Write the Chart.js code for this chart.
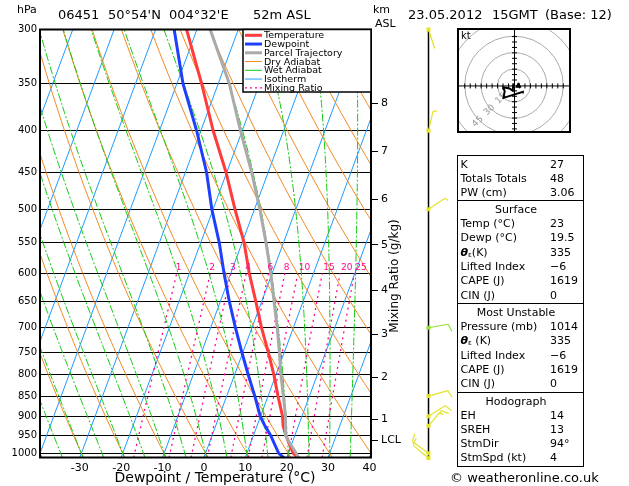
<!DOCTYPE html>
<html>
<head>
<meta charset="utf-8">
<script src="https://cdn.jsdelivr.net/npm/chart.js@4.4.1/dist/chart.umd.min.js"></script>
<style>
html, body { margin: 0; padding: 0; background: #fff; }
#wrap { position: relative; width: 629px; height: 486px; overflow: hidden; font-family: "DejaVu Sans", sans-serif; color: #000; }
#main { position: absolute; left: 0; top: 0; }
#hodo { position: absolute; left: 457px; top: 28px; }
.txt { position: absolute; white-space: pre; line-height: 14px; }
.box { position: absolute; border: 1px solid #000; box-sizing: border-box; }
.sep { position: absolute; height: 1px; background: #000; }
sub { font-size: 7px; vertical-align: -1px; }
</style>
</head>
<body>
<div id="wrap">
  <canvas id="main" width="629" height="486"></canvas>
  <canvas id="hodo" width="114" height="105"></canvas>
</div>
<script>
// sounding profile, pressures in hPa, temps in degC
var levels      = [1014, 1000, 950, 925, 900, 850, 800, 750, 700, 650, 600, 550, 500, 450, 400, 350, 300];
var temperature = [23.0, 21.2, 17.8, 16.3, 15.3, 12.4, 9.5, 6.1, 2.3, -1.4, -5.5, -9.5, -14.7, -20.2, -27.0, -34.0, -42.5];
var dewpoint    = [19.5, 17.7, 14.1, 11.9, 9.9, 6.8, 3.3, -0.3, -4.0, -7.8, -11.6, -15.5, -20.3, -24.9, -31.0, -38.5, -45.5];
var parcelLevels = [1014, 1000, 964, 950, 925, 900, 850, 800, 750, 700, 650, 600, 550, 500, 450, 400, 350, 300];
var parcelTemp   = [23.0, 21.9, 18.8, 17.8, 17.0, 15.9, 13.7, 11.2, 8.8, 6.1, 3.0, -0.3, -4.2, -8.7, -14.0, -20.4, -27.3, -36.8];

// axes
var tempTicks = [-30, -20, -10, 0, 10, 20, 30, 40];
var pressureTicks = [300, 350, 400, 450, 500, 550, 600, 650, 700, 750, 800, 850, 900, 950, 1000];
var heightPressure = [908, 806, 713, 629, 553, 486, 424, 370];
var heightLabels = ['1', '2', '3', '4', '5', '6', '7', '8'];
var lclPressure = 964;

// background lines of the diagram
var isotherms = [-80, -70, -60, -50, -40, -30, -20, -10, 0, 10, 20, 30, 40];
var dryAdiabats = [-40, -30, -20, -10, 0, 10, 20, 30, 40, 50, 60, 70, 80, 90, 100, 110, 120];
var wetAdiabats = [-40, -35, -30, -25, -20, -15, -10, -5, 0, 5, 10, 15, 20, 25, 30, 35, 40];
var mixingRatios = [1, 2, 3, 4, 6, 8, 10, 15, 20, 25];

// winds
var windLevels = [300, 400, 500, 700, 850, 900, 925, 1000, 1014];
var windDir    = [162, 13, 56, 80, 74, 58, 40, 306, 310];
var windSpeed  = [2, 5, 5, 10, 10, 10, 15, 10, 10];
var stormDir = 94, stormSpd = 4;
var hodoRings = [15, 30, 45, 60];

// indices table
var indexLabels = ['K', 'Totals Totals', 'PW (cm)'];
var indexValues = ['27', '48', '3.06'];
var surfaceLabels = ['Temp (°C)', 'Dewp (°C)', 'θε(K)', 'Lifted Index', 'CAPE (J)', 'CIN (J)'];
var surfaceValues = ['23', '19.5', '335', '−6', '1619', '0'];
var unstableLabels = ['Pressure (mb)', 'θε (K)', 'Lifted Index', 'CAPE (J)', 'CIN (J)'];
var unstableValues = ['1014', '335', '−6', '1619', '0'];
var hodoLabels = ['EH', 'SREH', 'StmDir', 'StmSpd (kt)'];
var hodoValues = ['14', '13', '94°', '4'];

var FONT = '"DejaVu Sans", sans-serif';
var K = 31.5;          // skew, degC per ln(p)
var pBottom = 1012, pTop = 300;
var xMin = -40 + K * Math.log(pBottom / 1000), xMax = xMin + 80;

function skewX(tC, p) { return tC + K * Math.log(pBottom / p); }

var samplePs = [pBottom];
for (var sp = 1000; sp >= pTop; sp -= 10) samplePs.push(sp);

function satVap(tC) { return 6.112 * Math.exp(17.67 * tC / (tC + 243.5)); }

function dTdp(p, T) {
    var es = satVap(T - 273.15);
    var rs = 0.622 * es / (p - es);
    var num = 287.04 * T + 2.501e6 * rs;
    var den = 1005.7 + (2.501e6 * 2.501e6 * rs * 0.622) / (287.04 * T * T);
    return num / (den * p);
}

function moistLine(twC) {
    var pts = [];
    var T = twC + 273.15, p = 1000, dp = 2;
    // below 1000 hPa
    var k1 = dTdp(p, T), k2 = dTdp(p + 12, T + k1 * 12);
    pts.push({x: skewX(T + 0.5 * (k1 + k2) * 12 - 273.15, pBottom), y: pBottom});
    pts.push({x: skewX(twC, 1000), y: 1000});
    while (p > pTop) {
        k1 = dTdp(p, T);
        k2 = dTdp(p - dp, T - k1 * dp);
        T -= 0.5 * (k1 + k2) * dp;
        p -= dp;
        if (p % 10 === 0) pts.push({x: skewX(T - 273.15, p), y: p});
    }
    return pts;
}

function mixingTd(w, p) {
    var e = w * p / (622 + w);
    var l = Math.log(e / 6.112);
    return 243.5 * l / (17.67 - l);
}

function profile(ps, ts) {
    return ps.map(function(p, i) { return {x: skewX(ts[i], p), y: p}; });
}

var datasets = [];
function addLine(data, color, width, dash) {
    datasets.push({
        data: data, showLine: true, borderColor: color, borderWidth: width,
        borderDash: dash || [], pointRadius: 0, fill: false, tension: 0
    });
}

// top-most first
addLine(profile(parcelLevels, parcelTemp), '#aaaaaa', 3);
addLine(profile(levels, temperature), '#ff3b3b', 3);
addLine(profile(levels, dewpoint), '#1f3fff', 3);
mixingRatios.forEach(function(w) {
    var pts = [];
    samplePs.forEach(function(p) { if (p >= 600) pts.push({x: skewX(mixingTd(w, p), p), y: p}); });
    addLine(pts, '#ff0a8c', 1.3, [2, 4]);
});
wetAdiabats.forEach(function(tw) { addLine(moistLine(tw), '#12cc12', 1, [8, 2, 2, 2]); });
dryAdiabats.forEach(function(th) {
    addLine(samplePs.map(function(p) {
        var T = (th + 273.15) * Math.pow(p / 1000, 0.2857) - 273.15;
        return {x: skewX(T, p), y: p};
    }), '#f08a24', 1);
});
isotherms.forEach(function(t) {
    addLine([{x: skewX(t, pBottom), y: pBottom}, {x: skewX(t, pTop), y: pTop}], '#1e9bff', 1);
});

function drawBarb(ctx, cx, cy, dir, spd, color) {
    var a = dir * Math.PI / 180;
    var ux = Math.sin(a), uy = -Math.cos(a);
    var px = -uy, py = ux;
    var bx = 0.3 * ux + 0.95 * px, by = 0.3 * uy + 0.95 * py;
    var L = 20, pos = L;
    ctx.strokeStyle = color;
    ctx.fillStyle = color;
    ctx.lineWidth = 1.2;
    ctx.beginPath();
    ctx.moveTo(cx, cy);
    ctx.lineTo(cx + ux * L, cy + uy * L);
    var rem = Math.round(spd / 5) * 5;
    while (rem >= 10) {
        ctx.moveTo(cx + ux * pos, cy + uy * pos);
        ctx.lineTo(cx + ux * pos + bx * 8, cy + uy * pos + by * 8);
        pos -= 3;
        rem -= 10;
    }
    if (rem >= 5) {
        ctx.moveTo(cx + ux * pos, cy + uy * pos);
        ctx.lineTo(cx + ux * pos + bx * 4, cy + uy * pos + by * 4);
    }
    ctx.stroke();
    ctx.fillRect(cx - 2, cy - 2, 4, 4);
}

var legendItems = [
    ['Temperature', '#ff3b3b', 3, []],
    ['Dewpoint', '#1f3fff', 3, []],
    ['Parcel Trajectory', '#aaaaaa', 3, []],
    ['Dry Adiabat', '#f08a24', 1, []],
    ['Wet Adiabat', '#12cc12', 1, []],
    ['Isotherm', '#1e9bff', 1, []],
    ['Mixing Ratio', '#ff0a8c', 1.3, [2, 3]]
];

var decorPlugin = {
    id: 'skewDecor',
    afterDraw: function(chart) {
        var ctx = chart.ctx, a = chart.chartArea;
        var xs = chart.scales.x, ys = chart.scales.y;
        ctx.save();

        // mixing ratio labels at 600 hPa
        ctx.fillStyle = '#ff0a8c';
        ctx.font = '9px ' + FONT;
        ctx.textAlign = 'left';
        ctx.textBaseline = 'middle';
        mixingRatios.forEach(function(w) {
            var xp = xs.getPixelForValue(skewX(mixingTd(w, 600), 600));
            ctx.fillText(String(w), xp + (w >= 10 ? 1 : -1), ys.getPixelForValue(600) - 6);
        });

        // plot frame
        ctx.strokeStyle = '#000';
        ctx.lineWidth = 2;
        ctx.strokeRect(a.left, a.top, a.right - a.left, a.bottom - a.top);

        // legend
        var lx = 243, ly = a.top;
        ctx.fillStyle = '#fff';
        ctx.fillRect(lx, ly, a.right - lx, 62.5);
        ctx.lineWidth = 1.5;
        ctx.strokeRect(lx, ly, a.right - lx, 62.5);
        ctx.font = '9.5px ' + FONT;
        ctx.textAlign = 'left';
        legendItems.forEach(function(it, i) {
            var yy = ly + 5.8 + i * 8.75;
            ctx.strokeStyle = it[1];
            ctx.lineWidth = it[2];
            ctx.setLineDash(it[3]);
            ctx.beginPath();
            ctx.moveTo(245, yy);
            ctx.lineTo(262, yy);
            ctx.stroke();
            ctx.setLineDash([]);
            ctx.fillStyle = '#000';
            ctx.fillText(it[0], 264, yy + 0.5);
        });

        // axis titles
        ctx.fillStyle = '#000';
        ctx.font = '14px ' + FONT;
        ctx.textAlign = 'center';
        ctx.fillText('Dewpoint / Temperature (°C)', 215, 478);
        ctx.save();
        ctx.translate(395, 276);
        ctx.rotate(-Math.PI / 2);
        ctx.font = '12px ' + FONT;
        ctx.fillText('Mixing Ratio (g/kg)', 0, 0);
        ctx.restore();

        // wind barbs column
        var bxp = 428.5;
        ctx.strokeStyle = '#000';
        ctx.lineWidth = 1.5;
        ctx.beginPath();
        ctx.moveTo(bxp, ys.getPixelForValue(300) - 1);
        ctx.lineTo(bxp, ys.getPixelForValue(1014) + 1);
        ctx.stroke();
        windLevels.forEach(function(p, i) {
            var col = p === 700 ? '#99dd33' : '#e3e32a';
            drawBarb(ctx, bxp, ys.getPixelForValue(p), windDir[i], windSpeed[i], col);
        });
        ctx.restore();
    }
};

new Chart(document.getElementById('main'), {
    type: 'scatter',
    data: {datasets: datasets},
    options: {
        responsive: false,
        animation: false,
        devicePixelRatio: 1,
        layout: {padding: {top: 29.5, right: 223, bottom: 0, left: 0}},
        plugins: {legend: {display: false}, tooltip: {enabled: false}},
        scales: {
            x: {
                type: 'linear', position: 'bottom', min: xMin, max: xMax,
                grid: {display: false, drawTicks: false},
                border: {display: false},
                ticks: {color: '#000', font: {family: FONT, size: 11}, padding: 4, maxRotation: 0, autoSkip: false,
                        callback: function(v) { return String(v); }},
                afterBuildTicks: function(s) { s.ticks = tempTicks.map(function(v) { return {value: v}; }); },
                afterFit: function(s) { s.height = 28.5; }
            },
            y: {
                type: 'logarithmic', position: 'left', reverse: true, min: pTop, max: pBottom,
                grid: {color: '#000', lineWidth: 1, drawTicks: false},
                border: {display: false},
                ticks: {color: '#000', font: {family: FONT, size: 10}, padding: 3, autoSkip: false,
                        callback: function(v) { return String(v); }},
                afterBuildTicks: function(s) {
                    s.ticks = pressureTicks.map(function(v) { return {value: v}; });
                    s.min = pTop; s.max = pBottom;
                },
                afterFit: function(s) { s.width = 40; }
            },
            y2: {
                type: 'logarithmic', position: 'right', reverse: true, min: pTop, max: pBottom,
                grid: {drawOnChartArea: false, drawTicks: true, tickLength: 7, color: '#000', lineWidth: 1},
                border: {display: false},
                ticks: {color: '#000', font: {family: FONT, size: 11}, padding: 3, autoSkip: false,
                        callback: function(v, i) { return heightLabels.concat(['LCL'])[i]; }},
                afterBuildTicks: function(s) {
                    s.ticks = heightPressure.concat([lclPressure]).map(function(v) { return {value: v}; });
                    s.min = pTop; s.max = pBottom;
                },
                afterFit: function(s) { s.width = 35; }
            }
        }
    },
    plugins: [decorPlugin]
});

// hodograph
var hodoPoints = windLevels.slice().reverse().map(function(p, i) {
    var j = windLevels.length - 1 - i;
    var a = windDir[j] * Math.PI / 180;
    return {x: -windSpeed[j] * Math.sin(a), y: -windSpeed[j] * Math.cos(a)};
});
var stormPoint = {x: stormSpd * Math.sin(stormDir * Math.PI / 180), y: stormSpd * Math.cos(stormDir * Math.PI / 180)};

var hodoPlugin = {
    id: 'hodoDecor',
    beforeDatasetsDraw: function(chart) {
        var ctx = chart.ctx, xs = chart.scales.x, ys = chart.scales.y;
        var cx = xs.getPixelForValue(0), cy = ys.getPixelForValue(0);
        var ppk = xs.getPixelForValue(1) - cx;
        ctx.save();
        ctx.strokeStyle = '#aaaaaa';
        ctx.lineWidth = 1;
        hodoRings.forEach(function(r) {
            ctx.beginPath();
            ctx.arc(cx, cy, r * ppk, 0, Math.PI * 2);
            ctx.stroke();
        });
        ctx.fillStyle = '#999';
        ctx.font = '9px ' + FONT;
        ctx.textAlign = 'center';
        ctx.textBaseline = 'middle';
        hodoRings.slice(0, 3).forEach(function(r) {
            var d = (r * ppk + 2) / Math.SQRT2;
            ctx.save();
            ctx.translate(cx - d, cy + d);
            ctx.rotate(-Math.PI / 4);
            ctx.fillText(String(r), 0, 0);
            ctx.restore();
        });
        ctx.strokeStyle = '#000';
        ctx.beginPath();
        ctx.moveTo(0, cy + 0.5); ctx.lineTo(chart.width, cy + 0.5);
        ctx.moveTo(cx + 0.5, 0); ctx.lineTo(cx + 0.5, chart.height);
        for (var k = -45; k <= 45; k += 5) {
            if (k === 0) continue;
            var xp = xs.getPixelForValue(k), yp = ys.getPixelForValue(k);
            ctx.moveTo(xp, cy - 2); ctx.lineTo(xp, cy + 3);
            ctx.moveTo(cx - 2, yp); ctx.lineTo(cx + 3, yp);
        }
        ctx.stroke();
        ctx.fillStyle = '#000';
        ctx.font = '10px ' + FONT;
        ctx.textAlign = 'left';
        ctx.fillText('kt', 4, 8);
        ctx.restore();
    },
    afterDraw: function(chart) {
        var ctx = chart.ctx;
        ctx.save();
        ctx.strokeStyle = '#000';
        ctx.lineWidth = 2;
        ctx.strokeRect(1, 1, chart.width - 2, chart.height - 2);
        ctx.restore();
    }
};

new Chart(document.getElementById('hodo'), {
    type: 'scatter',
    data: {datasets: [
        {data: [stormPoint], pointStyle: 'triangle', pointRadius: 3, backgroundColor: '#000', borderColor: '#000'},
        {data: hodoPoints, showLine: true, borderColor: '#000', borderWidth: 2, pointRadius: 0}
    ]},
    options: {
        responsive: false,
        animation: false,
        devicePixelRatio: 1,
        layout: {padding: 0},
        plugins: {legend: {display: false}, tooltip: {enabled: false}},
        scales: {
            x: {display: false, min: -47.5, max: 47.5},
            y: {display: false, min: -39.2, max: 48.3}
        }
    },
    plugins: [hodoPlugin]
});

// page texts
var wrap = document.getElementById('wrap');
function addText(html, left, cy, size, center) {
    var d = document.createElement('div');
    d.className = 'txt';
    d.innerHTML = html;
    d.style.left = left + 'px';
    d.style.top = (cy - 7) + 'px';
    d.style.fontSize = size + 'px';
    if (center) d.style.transform = 'translateX(-50%)';
    wrap.appendChild(d);
}
function thetaE(s) {
    return s.replace('θε', '<b><i>θ</i></b><sub>ε</sub>');
}

addText('hPa', 17, 10, 11);
addText('km', 373, 10, 11);
addText('ASL', 375, 24, 11);
addText('06451', 58, 15, 13);
addText('50°54\'N', 108, 15, 13);
addText('004°32\'E', 169, 15, 13);
addText('52m ASL', 253, 15, 13);
addText('23.05.2012', 408, 15, 13);
addText('15GMT', 492, 15, 13);
addText('(Base: 12)', 545, 15, 13);
addText('© weatheronline.co.uk', 450, 478, 13);

var box = document.createElement('div');
box.className = 'box';
box.style.left = '457px'; box.style.top = '155px';
box.style.width = '127px'; box.style.height = '312px';
wrap.appendChild(box);

var sections = [
    {top: 155, title: null, labels: indexLabels, values: indexValues},
    {top: 200, title: 'Surface', labels: surfaceLabels, values: surfaceValues},
    {top: 303, title: 'Most Unstable', labels: unstableLabels, values: unstableValues},
    {top: 391.5, title: 'Hodograph', labels: hodoLabels, values: hodoValues}
];
sections.forEach(function(s, si) {
    var y0 = s.top + 9.5;
    if (si > 0) {
        var sep = document.createElement('div');
        sep.className = 'sep';
        sep.style.left = '457px'; sep.style.width = '127px';
        sep.style.top = s.top + 'px';
        wrap.appendChild(sep);
    }
    if (s.title) {
        addText(s.title, 516, s.top + 10, 11, true);
        y0 = s.top + 24;
    }
    s.labels.forEach(function(l, i) {
        addText(thetaE(l), 460.5, y0 + i * 14.3, 11);
        addText(s.values[i], 550, y0 + i * 14.3, 11);
    });
});
</script>
</body>
</html>
